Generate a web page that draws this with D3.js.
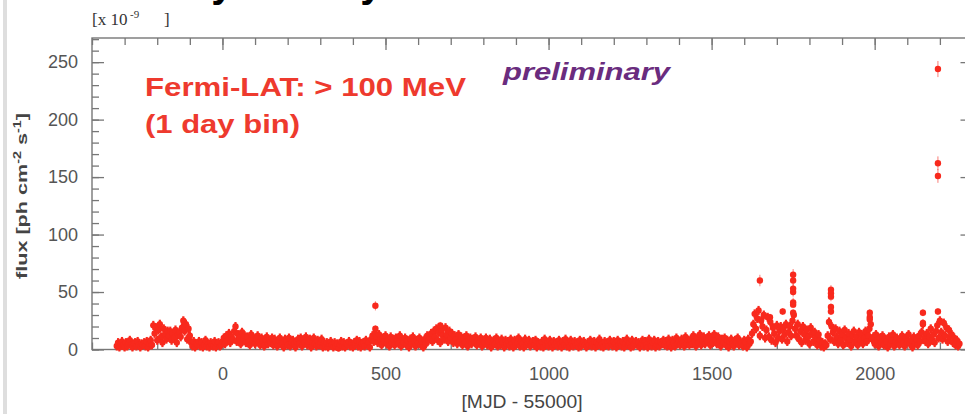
<!DOCTYPE html>
<html><head><meta charset="utf-8">
<script src="https://cdn.jsdelivr.net/npm/d3@7"></script>
<style>html,body{margin:0;padding:0;background:#fff;overflow:hidden}</style>
</head><body>
<svg id="c" width="965" height="414"></svg>
<script>
// ---------- data ----------
const titleText = "Daily activity";
const yTickValues = [0, 50, 100, 150, 200, 250];
const xTickValues = [0, 500, 1000, 1500, 2000];
const xLabel = "[MJD - 55000]";
const binStart = -324;   // first 1-day-bin shown (MJD-55000)
const binStep = 4;       // spacing of the bins typed below
const dailyFlux = [
  3,6,2,5,7,4,2,6,3,5,8,4,2,5,6,3,7,4,2,5,
  4,6,3,7,2,5,8,4,21,14,19,8,17,22,11,6,18,13,9,16,
  12,16,8,14,10,17,6,13,15,11,19,25,16,22,9,18,12,6,3,7,
  2,5,4,7,3,6,2,4,8,3,5,2,6,4,3,7,2,5,6,3,
  4,7,10,5,12,8,14,6,11,9,16,20,7,13,10,5,15,9,12,6,
  11,7,4,13,8,10,5,9,12,6,4,10,7,3,9,11,5,8,6,10,
  4,9,7,3,8,10,5,6,2,9,7,4,10,3,6,8,5,2,7,9,
  5,10,3,8,6,11,4,7,9,2,6,10,5,3,8,4,7,9,2,6,
  3,6,2,5,7,4,2,6,3,5,1,4,7,3,6,2,5,4,7,3,
  5,2,6,4,8,3,7,2,5,6,3,8,4,6,2,9,12,7,14,11,
  6,13,9,4,10,7,12,5,8,3,11,6,9,4,10,7,5,12,3,8,
  6,10,4,8,2,9,5,11,7,3,8,6,10,4,7,2,9,5,12,8,
  10,14,7,16,11,18,8,15,6,17,12,9,19,13,7,16,10,14,6,12,
  9,5,13,7,11,4,10,6,12,3,8,10,5,9,7,11,4,8,6,10,
  3,8,6,10,4,7,9,2,6,8,5,10,3,7,4,9,6,2,8,5,
  7,3,9,5,2,8,4,6,10,3,7,5,2,9,4,6,8,3,5,7,
  4,8,2,6,5,3,7,2,9,4,6,3,8,5,2,7,4,6,3,8,
  5,2,7,4,9,3,6,2,8,5,3,7,4,6,2,8,3,5,7,4,
  2,6,4,8,3,5,7,2,6,4,9,3,5,2,7,4,6,3,8,5,
  3,7,5,2,8,4,6,3,7,2,5,9,4,6,2,8,3,5,7,4,
  6,2,5,8,3,7,4,2,9,5,3,6,8,2,4,7,3,6,5,8,
  4,7,3,9,5,2,8,6,3,10,5,7,4,9,6,3,11,5,8,4,
  9,5,12,7,3,10,6,13,4,8,11,5,9,7,12,4,10,6,13,8,
  5,11,7,3,9,6,10,4,8,2,7,9,5,3,8,6,10,4,7,5,
  3,8,6,2,9,5,7,14,22,31,18,27,34,12,25,20,30,10,17,28,
  11,24,8,19,14,6,21,10,16,20,9,18,13,22,7,15,20,12,25,30,
  18,12,22,9,16,6,20,13,8,17,11,5,19,14,7,15,10,4,13,8,
  3,6,2,5,4,12,24,9,20,15,7,18,11,5,16,8,13,4,17,10,
  6,14,9,3,12,16,7,11,4,15,8,13,5,10,16,7,12,18,22,9,
  11,5,13,8,3,10,6,12,4,9,7,2,11,5,8,13,3,7,10,6,
  4,9,12,6,3,10,7,13,5,8,2,11,6,9,4,12,7,15,22,10,
  7,14,5,11,18,8,13,6,16,21,10,25,15,9,23,12,19,7,17,11,
  13,6,10,4,8,3,5
];
const flareDays = [469, 469, 668, 1648, 1679, 1718, 1750, 1750, 1750, 1750, 1750, 1750, 1750,
                   1866, 1866, 1866, 1866, 1866, 1985, 1985, 1985, 2148, 2148, 2194, 2194, 2194, 2194];
const flareFlux = [38, 18, 21, 60, 28, 33, 65, 60, 53, 50, 41, 39, 32,
                   52, 49, 46, 37, 33, 32, 28, 26, 32, 23, 33, 162, 151, 244];
const flareErr  = [4, 3, 3, 5, 3, 3, 5, 5, 4, 4, 4, 3, 3,
                   4, 4, 4, 3, 3, 3, 3, 3, 3, 3, 3, 6, 6, 7];

// ---------- layout ----------
const svg = d3.select("#c");
const frame = {left: 92, right: 972.5, top: 38, bottom: 349.5};
const x = d3.scaleLinear().domain([-400, 2300]).range([frame.left, frame.right]);
const y = d3.scaleLinear().domain([0, 271]).range([frame.bottom, frame.top]);
const axisColor = "#777";
const labelColor = "#555";
const red = "#f8291d";

// slide edge
svg.append("rect").attr("x", 3).attr("y", 0).attr("width", 4).attr("height", 414).attr("fill", "#dedede");

// cropped title (only descenders visible)
svg.append("text").attr("x", 138).attr("y", -3.5)
  .attr("font-family", "Liberation Sans, Arial, sans-serif").attr("font-weight", "bold")
  .attr("font-size", 40).attr("fill", "#000").text(titleText);

// frame
svg.append("rect").attr("x", frame.left).attr("y", frame.top)
  .attr("width", frame.right - frame.left).attr("height", frame.bottom - frame.top)
  .attr("fill", "none").attr("stroke", axisColor).attr("stroke-width", 1.4);

const minorY = d3.range(0, 271, 10);
const minorX = d3.range(-400, 2301, 100);

function styleAxis(g) {
  g.select(".domain").remove();
  g.selectAll("line").attr("stroke", axisColor).attr("stroke-width", 1.3);
  g.selectAll("text").attr("fill", labelColor).attr("font-size", 18)
    .attr("font-family", "Liberation Sans, Arial, sans-serif");
}

// left
svg.append("g").attr("transform", `translate(${frame.left},0)`)
  .call(d3.axisLeft(y).tickValues(minorY).tickSize(-7).tickFormat(""))
  .call(styleAxis);
svg.append("g").attr("transform", `translate(${frame.left},0)`)
  .call(d3.axisLeft(y).tickValues(yTickValues).tickSize(-12).tickPadding(14).tickFormat(d3.format("d")))
  .call(styleAxis);
// right
svg.append("g").attr("transform", `translate(${frame.right},0)`)
  .call(d3.axisRight(y).tickValues(minorY).tickSize(-7).tickFormat(""))
  .call(styleAxis);
svg.append("g").attr("transform", `translate(${frame.right},0)`)
  .call(d3.axisRight(y).tickValues(yTickValues).tickSize(-12).tickFormat(""))
  .call(styleAxis);
// bottom
svg.append("g").attr("transform", `translate(0,${frame.bottom})`)
  .call(d3.axisBottom(x).tickValues(minorX).tickSize(-7).tickFormat(""))
  .call(styleAxis);
svg.append("g").attr("transform", `translate(0,${frame.bottom})`)
  .call(d3.axisBottom(x).tickValues(xTickValues).tickSize(-12).tickPadding(18).tickFormat(d3.format("d")))
  .call(styleAxis);
// top
svg.append("g").attr("transform", `translate(0,${frame.top})`)
  .call(d3.axisTop(x).tickValues(minorX).tickSize(-7).tickFormat(""))
  .call(styleAxis);
svg.append("g").attr("transform", `translate(0,${frame.top})`)
  .call(d3.axisTop(x).tickValues(xTickValues).tickSize(-12).tickFormat(""))
  .call(styleAxis);

// axis titles
svg.append("text").attr("x", 522).attr("y", 408).attr("text-anchor", "middle")
  .attr("font-family", "Liberation Sans, Arial, sans-serif").attr("font-size", 18)
  .attr("fill", "#444").attr("textLength", 121).attr("lengthAdjust", "spacingAndGlyphs")
  .text(xLabel);

const yt = svg.append("text").attr("transform", "translate(27,196) rotate(-90)")
  .attr("text-anchor", "middle").attr("font-family", "Liberation Sans, Arial, sans-serif")
  .attr("font-weight", "bold").attr("font-size", 15).attr("fill", "#444")
  .attr("textLength", 166).attr("lengthAdjust", "spacingAndGlyphs");
yt.append("tspan").text("flux  [ph  cm");
yt.append("tspan").attr("dy", -6).attr("font-size", 10).text("-2");
yt.append("tspan").attr("dy", 6).text(" s");
yt.append("tspan").attr("dy", -6).attr("font-size", 10).text("-1");
yt.append("tspan").attr("dy", 6).text("]");

// multiplier
const mult = svg.append("g").attr("font-family", "Liberation Serif, Times New Roman, serif").attr("fill", "#333");
mult.append("text").attr("x", 92).attr("y", 25).attr("font-size", 17).text("[x 10");
mult.append("text").attr("x", 130).attr("y", 18).attr("font-size", 11).text("-9");
mult.append("text").attr("x", 164).attr("y", 25).attr("font-size", 17).text("]");

// in-plot labels
const lab = svg.append("g").attr("font-family", "Liberation Sans, Arial, sans-serif").attr("font-weight", "bold");
lab.append("text").attr("x", 145).attr("y", 96).attr("font-size", 26).attr("fill", "#ee3a2e")
  .attr("textLength", 321).attr("lengthAdjust", "spacingAndGlyphs").text("Fermi-LAT: > 100 MeV");
lab.append("text").attr("x", 145).attr("y", 133).attr("font-size", 26).attr("fill", "#ee3a2e")
  .attr("textLength", 155).attr("lengthAdjust", "spacingAndGlyphs").text("(1 day bin)");
lab.append("text").attr("x", 503).attr("y", 80).attr("font-size", 24).attr("font-style", "italic")
  .attr("fill", "#6a2c7e").attr("textLength", 167).attr("lengthAdjust", "spacingAndGlyphs").text("preliminary");

// data
const daily = dailyFlux.map((f, i) => ({day: binStart + i * binStep, flux: f}));
const flares = flareDays.map((d, i) => ({day: d, flux: flareFlux[i], err: flareErr[i]}));

const pts = svg.append("g");
// marker with vertical error-bar glyph
pts.selectAll("line.de").data(daily).join("line").attr("class", "de")
  .attr("x1", d => x(d.day)).attr("x2", d => x(d.day))
  .attr("y1", d => y(d.flux) - 4.5).attr("y2", d => Math.min(y(d.flux) + 4.5, frame.bottom + 2))
  .attr("stroke", red).attr("stroke-width", 2.2);
pts.selectAll("circle.d").data(daily).join("circle").attr("class", "d")
  .attr("cx", d => x(d.day)).attr("cy", d => y(d.flux)).attr("r", 3.2).attr("fill", red);
pts.selectAll("line.e").data(flares).join("line").attr("class", "e")
  .attr("x1", d => x(d.day)).attr("x2", d => x(d.day))
  .attr("y1", d => y(d.flux - d.err)).attr("y2", d => y(d.flux + d.err))
  .attr("stroke", red).attr("stroke-width", 1).attr("opacity", 0.6);
pts.selectAll("circle.f").data(flares).join("circle").attr("class", "f")
  .attr("cx", d => x(d.day)).attr("cy", d => y(d.flux)).attr("r", 3.2).attr("fill", red);
</script>
</body></html>
